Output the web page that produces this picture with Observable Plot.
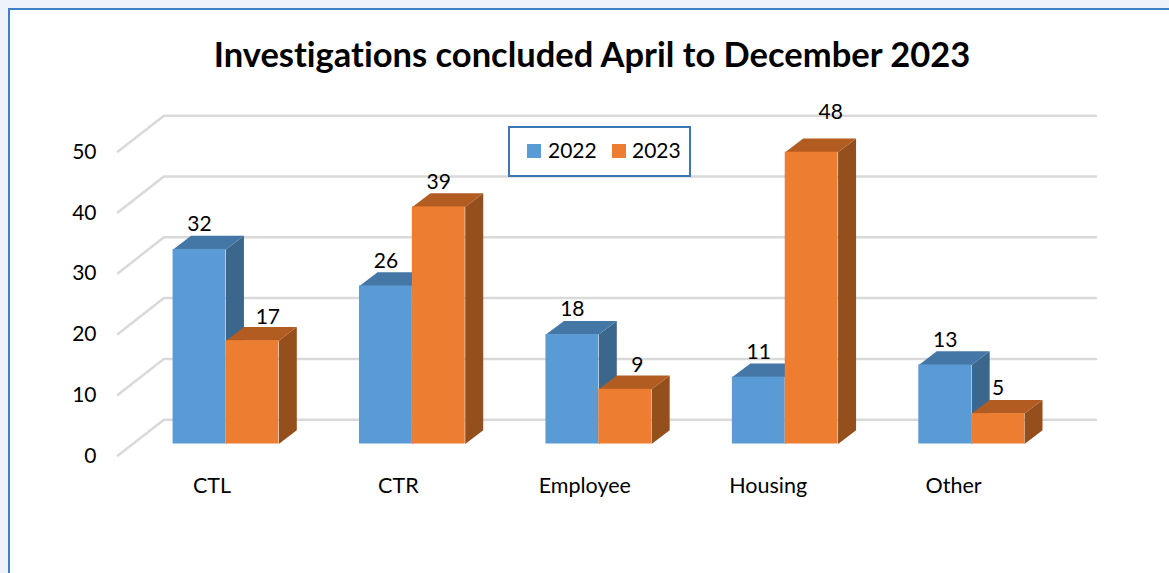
<!DOCTYPE html>
<html>
<head>
<meta charset="utf-8">
<script src="https://cdn.jsdelivr.net/npm/d3@7"></script>
<script src="https://cdn.jsdelivr.net/npm/@observablehq/plot@0.6"></script>
<style>
  html, body { margin: 0; padding: 0; width: 1169px; height: 573px; overflow: hidden; background: #eef3fb; }
  #panel { position: absolute; left: 8px; top: 8px; width: 1300px; height: 700px; background: #fff; border: 2px solid #3f80c0; box-sizing: border-box; }
  #title { position: absolute; left: 0; top: 31px; width: 1184px; text-align: center; margin: 0; font: 700 34.5px/46px Lato, sans-serif; font-variant-ligatures: none; color: #000; }
  #chart { position: absolute; left: 0; top: 80px; }
  #legend { position: absolute; left: 508px; top: 126px; width: 183px; height: 51px; box-sizing: border-box; background: #fff; border: 2px solid #3a78b5; font: 21px Lato, sans-serif; color: #000; }
  #legend i { position: absolute; top: 16px; width: 14px; height: 14px; }
  #legend span { position: absolute; top: 9px; line-height: 26px; }
  svg text { fill: #000; }
</style>
</head>
<body>
<div id="panel"></div>
<h1 id="title">Investigations concluded April to December 2023</h1>
<div id="chart"></div>
<div id="legend"></div>
<script>
const categories = ["CTL", "CTR", "Employee", "Housing", "Other"];
const values2022 = [32, 26, 18, 11, 13];
const values2023 = [17, 39, 9, 48, 5];
const seriesNames = ["2022", "2023"];
const yTicks = [0, 10, 20, 30, 40, 50];

// Style and layout of the fake 3D look, in data units
const frontColors = ["#5b9bd5", "#ed7d31"];
const topColors = ["#4477a5", "#b25c22"];
const sideColors = ["#3c678c", "#954f1c"];
const barWidth = 0.2835;
const depthX = 0.0966, depthY = 2.25;
const wallX0 = -0.579, wallX1 = -0.3326, wallX2 = 4.667;
const floorFront = -1.9, floorBack = 4.0;

// Label nudges in pixels
const nudges = { "2023-0": [15.5, 2], "2023-3": [19, -15], "2023-2": [12, 1] };
const categoryNudges = [-14, -14, -14, -17, -18];

const bars = [values2022, values2023].flatMap((vals, s) =>
  vals.map((v, i) => ({
    s, i, v,
    x1: i + (s - 1) * barWidth,
    x2: i + s * barWidth,
    key: `${seriesNames[s]}-${i}`
  }))
);

const poly = (b, face) => {
  const { x1, x2, v } = b;
  const pts = face === "top"
    ? [[x1, v], [x2, v], [x2 + depthX, v + depthY], [x1 + depthX, v + depthY]]
    : [[x2, 0], [x2 + depthX, depthY], [x2 + depthX, v + depthY], [x2, v]];
  return pts.map(([x, y]) => ({ x, y, id: b.key }));
};

const barMarks = [0, 1].flatMap(s => {
  const sel = bars.filter(b => b.s === s);
  return [
    Plot.line(sel.flatMap(b => poly(b, "side")), { x: "x", y: "y", z: "id", fill: sideColors[s], stroke: "none", curve: "linear-closed" }),
    Plot.line(sel.flatMap(b => poly(b, "top")), { x: "x", y: "y", z: "id", fill: topColors[s], stroke: "none", curve: "linear-closed" }),
    Plot.rectY(sel, { x1: "x1", x2: "x2", y1: 0, y2: "v", fill: frontColors[s], inset: 0 })
  ];
});

const gridPts = yTicks.flatMap(t => [
  { x: wallX0, y: t + floorFront, t },
  { x: wallX1, y: t + floorBack, t },
  { x: wallX2, y: t + floorBack, t }
]);

const labelMarks = bars.map(b => {
  const [dx, dy] = nudges[b.key] || [0, 0];
  return Plot.text([b], { x: d => (d.x1 + d.x2) / 2, y: "v", text: d => String(d.v), dx, dy: dy - 25, fontSize: 21 });
});

const plot = Plot.plot({
  width: 1169,
  height: 493,
  marginLeft: 118,
  marginRight: 73,
  marginTop: 59.5,
  marginBottom: 129.5,
  style: { background: "transparent", fontFamily: "Lato, sans-serif", overflow: "visible" },
  x: { domain: [wallX0, wallX2], range: [117.5, 1095.5] },
  y: { domain: [0, 50], range: [363.5, 59.5] },
  marks: [
    Plot.line(gridPts, { x: "x", y: "y", z: "t", stroke: "#d9d9d9", strokeWidth: 2.5 }),
    ...barMarks,
    ...labelMarks,
    Plot.axisY({ ticks: yTicks, anchor: "left", tickSize: 0, tickPadding: 22, dy: 12, fontSize: 21, label: null, tickFormat: d => String(d) }),
    ...categories.map((c, i) => Plot.axisX({ ticks: [i], anchor: "bottom", tickSize: 0, tickPadding: 34, dx: categoryNudges[i], fontSize: 21.5, label: null, tickFormat: () => c }))
  ]
});
document.getElementById("chart").appendChild(plot);

const legend = document.getElementById("legend");
seriesNames.forEach((name, k) => {
  const sw = document.createElement("i");
  sw.style.left = (17 + k * 85) + "px";
  sw.style.background = frontColors[k];
  const t = document.createElement("span");
  t.style.left = (38 + k * 84) + "px";
  t.textContent = name;
  legend.append(sw, t);
});
</script>
</body>
</html>
